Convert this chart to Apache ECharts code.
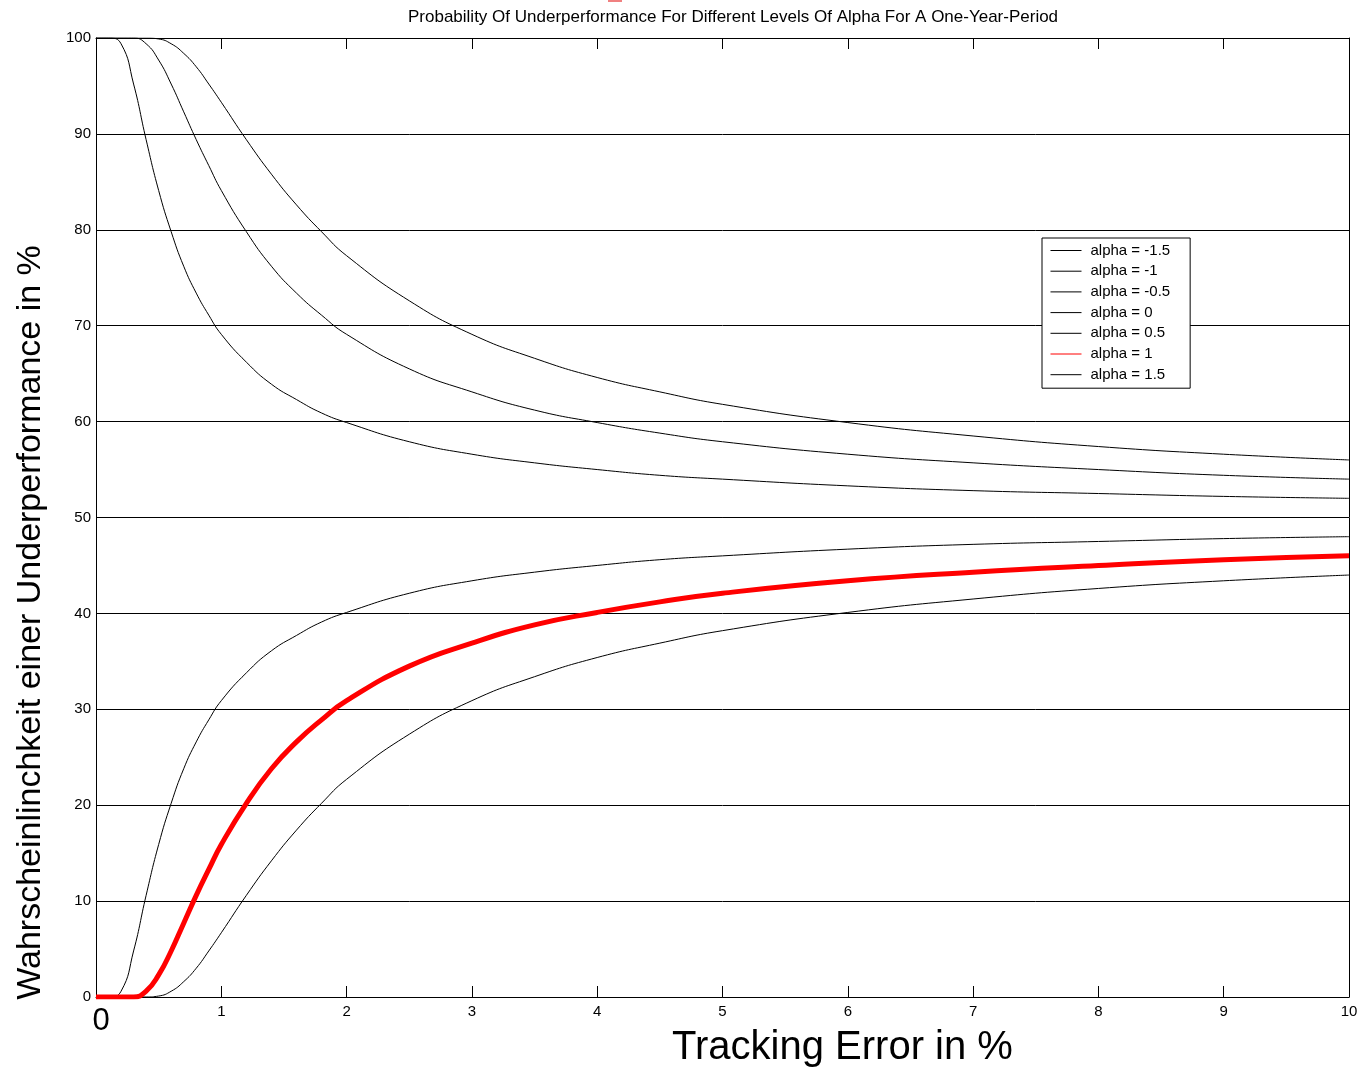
<!DOCTYPE html>
<html>
<head>
<meta charset="utf-8">
<script src="https://cdn.jsdelivr.net/npm/echarts@6/dist/echarts.min.js"></script>
<style>html,body{margin:0;padding:0;background:#fff;overflow:hidden;}#c{width:1359px;height:1067px;}</style>
</head>
<body>
<div id="c"></div>
<script>
// Tracking error (x, %)
const trackingError = [0, 0.1, 0.2, 0.3, 0.4, 0.5, 0.6, 0.7, 0.8, 0.9, 1.0, 1.2, 1.4, 1.6, 1.8, 2.0, 2.5, 3.0, 3.5, 4.0, 4.5, 5, 6, 7, 8, 9, 10];
// Probability of underperformance (%)
const alphaM15 = [100, 100, 100, 100, 100, 99.9, 99.4, 98.4, 97.0, 95.2, 93.3, 89.4, 85.8, 82.6, 79.8, 77.3, 72.6, 69.1, 66.6, 64.6, 63.1, 61.8, 59.9, 58.5, 57.4, 56.6, 56.0];
const alphaM10 = [100, 100, 100, 100, 99.4, 97.7, 95.2, 92.3, 89.4, 86.7, 84.1, 79.8, 76.2, 73.4, 71.1, 69.1, 65.5, 63.1, 61.2, 59.9, 58.8, 57.9, 56.6, 55.7, 55.0, 54.4, 54.0];
const alphaM05 = [100, 100, 99.4, 95.2, 89.4, 84.1, 79.8, 76.2, 73.4, 71.1, 69.1, 66.2, 63.9, 62.3, 60.9, 59.9, 57.9, 56.6, 55.7, 55.0, 54.4, 54.0, 53.3, 52.8, 52.5, 52.2, 52.0];
const alpha00  = [50, 50, 50, 50, 50, 50, 50, 50, 50, 50, 50, 50, 50, 50, 50, 50, 50, 50, 50, 50, 50, 50, 50, 50, 50, 50, 50];
const alphaP05 = [0, 0, 0.6, 4.8, 10.6, 15.9, 20.2, 23.8, 26.6, 28.9, 30.9, 33.8, 36.1, 37.7, 39.1, 40.1, 42.1, 43.4, 44.3, 45.0, 45.6, 46.0, 46.7, 47.2, 47.5, 47.8, 48.0];
const alphaP10 = [0, 0, 0, 0, 0.6, 2.3, 4.8, 7.7, 10.6, 13.3, 15.9, 20.2, 23.8, 26.6, 28.9, 30.9, 34.5, 36.9, 38.8, 40.1, 41.2, 42.1, 43.4, 44.3, 45.0, 45.6, 46.0];
const alphaP15 = [0, 0, 0, 0, 0, 0.1, 0.6, 1.6, 3.0, 4.8, 6.7, 10.6, 14.2, 17.4, 20.2, 22.7, 27.4, 30.9, 33.4, 35.4, 36.9, 38.2, 40.1, 41.5, 42.6, 43.4, 44.0];
const seriesNames = ['alpha = -1.5', 'alpha = -1', 'alpha = -0.5', 'alpha = 0', 'alpha = 0.5', 'alpha = 1', 'alpha = 1.5'];
const seriesValues = [alphaM15, alphaM10, alphaM05, alpha00, alphaP05, alphaP10, alphaP15];
const xTicks = [0, 1, 2, 3, 4, 5, 6, 7, 8, 9, 10];
const yTicks = [0, 10, 20, 30, 40, 50, 60, 70, 80, 90, 100];

const FONT = "'Liberation Sans', Arial, Helvetica, sans-serif";
const chart = echarts.init(document.getElementById('c'), null, { width: 1359, height: 1067 });

const series = seriesNames.map((name, i) => {
  const red = name === 'alpha = 1';
  return {
    name: name,
    type: 'line',
    data: trackingError.map((x, j) => [x, seriesValues[i][j]]),
    symbol: 'none',
    showSymbol: false,
    smooth: 0.5,
    clip: true,
    color: red ? '#ff0000' : '#000000',
    lineStyle: { color: red ? '#ff0000' : '#000000', width: red ? 5 : 1 },
    z: red ? 5 : 3,
    animation: false
  };
});

const option = {
  animation: false,
  backgroundColor: '#ffffff',
  title: {
    text: 'Probability Of Underperformance For Different Levels Of Alpha For A One-Year-Period',
    left: 408,
    top: 9,
    padding: 0,
    textStyle: { fontFamily: FONT, fontSize: 17, fontWeight: 'normal', color: '#000' }
  },
  grid: { left: 96, right: 10, top: 38, bottom: 70, containLabel: false, outerBoundsMode: 'none' },
  legend: {
    orient: 'vertical',
    left: 1042,
    top: 238,
    data: seriesNames,
    itemWidth: 31,
    itemHeight: 14,
    itemGap: 5.7,
    padding: [5, 20, 6, 8],
    backgroundColor: '#ffffff',
    borderColor: '#000000',
    borderWidth: 1,
    borderRadius: 0,
    itemStyle: { opacity: 0, borderWidth: 0 },
    lineStyle: { width: 1 },
    textStyle: { fontFamily: FONT, fontSize: 15, color: '#000', padding: [0, 0, 0, 4] }
  },
  xAxis: [
    {
      type: 'value', min: 0, max: 10, interval: 1, position: 'bottom',
      axisLine: { show: true, onZero: false, lineStyle: { color: '#000', width: 1 } },
      axisTick: { show: true, inside: true, length: 11, lineStyle: { color: '#000' } },
      splitLine: { show: false },
      axisLabel: {
        margin: 7, color: '#000', fontFamily: FONT, fontSize: 15,
        formatter: v => xTicks.indexOf(v) === 0 ? '{big|' + v + '}' : String(v),
        rich: { big: { fontSize: 31, fontFamily: FONT, color: '#000', padding: [2, 0, 0, 10] } }
      },
      name: 'Tracking Error in %',
      nameLocation: 'middle',
      nameGap: 31,
      nameMoveOverlap: false,
      nameTextStyle: { fontFamily: FONT, fontSize: 40, color: '#000', padding: [0, 0, 0, 240], verticalAlign: 'top' }
    },
    {
      type: 'value', min: 0, max: 10, interval: 1, position: 'top',
      axisLine: { show: true, onZero: false, lineStyle: { color: '#000', width: 1 } },
      axisTick: { show: true, inside: true, length: 11, lineStyle: { color: '#000' } },
      axisLabel: { show: false }, splitLine: { show: false }
    }
  ],
  yAxis: [
    {
      type: 'value', min: 0, max: 100, interval: 10, position: 'left',
      axisLine: { show: true, onZero: false, lineStyle: { color: '#000', width: 1 } },
      axisTick: { show: true, inside: true, length: 10, lineStyle: { color: '#000' } },
      splitLine: { show: true, lineStyle: { color: '#000', width: 1 } },
      axisLabel: { margin: 5, color: '#000', fontFamily: FONT, fontSize: 15,
        formatter: v => yTicks.indexOf(v) >= 0 ? String(v) : '' },
      name: 'Wahrscheinlinchkeit einer Underperformance in %',
      nameLocation: 'middle',
      nameGap: 48,
      nameMoveOverlap: false,
      nameTextStyle: { fontFamily: FONT, fontSize: 34, color: '#000', padding: [0, 210, 0, 0] }
    },
    {
      type: 'value', min: 0, max: 100, interval: 10, position: 'right',
      axisLine: { show: true, onZero: false, lineStyle: { color: '#000', width: 1 } },
      axisTick: { show: true, inside: true, length: 10, lineStyle: { color: '#000' } },
      axisLabel: { show: false }, splitLine: { show: false }
    }
  ],
  graphic: [
    { type: 'rect', shape: { x: 608, y: 0, width: 14, height: 2 }, style: { fill: '#f08080' }, silent: true }
  ],
  series: series
};
chart.setOption(option);
</script>
</body>
</html>
